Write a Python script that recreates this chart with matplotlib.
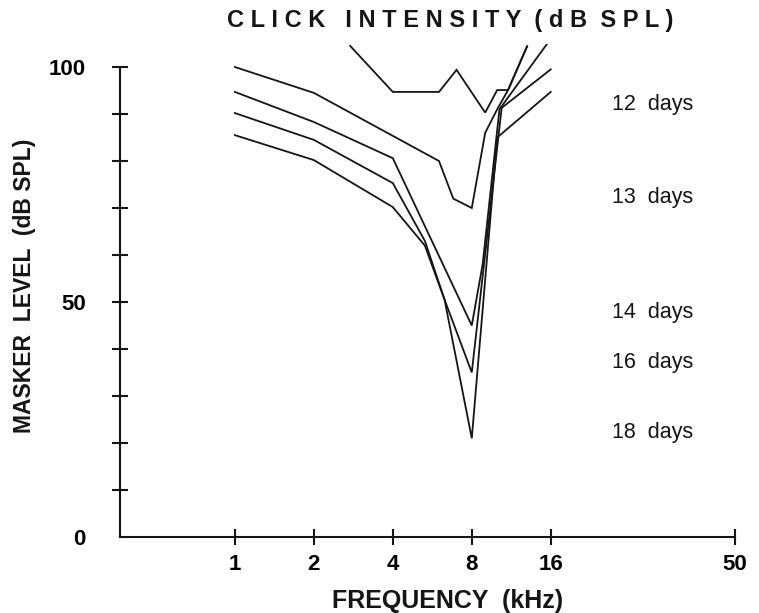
import numpy as np
import matplotlib
matplotlib.use("Agg")
import matplotlib.pyplot as plt
from matplotlib.ticker import FixedLocator

plt.rcParams["font.family"] = ["Liberation Sans", "DejaVu Sans"]

# masking curves, frequency in kHz, masker level in dB SPL
f_12 = [2.75, 4, 6, 7, 9, 10, 11, 13]
db_12 = [104.5, 94.7, 94.7, 99.4, 90.3, 95.1, 95.1, 104.4]

f_13 = [1, 2, 6, 6.8, 8, 9, 10, 11, 13]
db_13 = [100, 94.5, 80, 72, 70, 86, 91, 95.1, 104.4]

f_14 = [1, 2, 4, 8, 8.8, 10.2, 16]
db_14 = [94.7, 88.3, 80.6, 45, 58, 91, 106]

f_16 = [1, 2, 4, 5.3, 6.3, 8, 10.4, 16]
db_16 = [90.2, 84.5, 75.3, 63, 50.5, 35, 91.3, 99.5]

f_18 = [1, 2, 4, 5.3, 6.3, 8, 10, 16]
db_18 = [85.5, 80.2, 70.2, 62, 50.5, 21, 85, 94.7]

curves = [(f_12, db_12), (f_13, db_13), (f_14, db_14), (f_16, db_16), (f_18, db_18)]

age_labels = ["12  days", "13  days", "14  days", "16  days", "18  days"]
age_label_y = [92.0, 72.3, 47.7, 37.2, 22.3]

freq_ticks = [1, 2, 4, 8, 16]
freq_labels = ["1", "2", "4", "8", "16", "50"]

x_lo, x_hi = 2 ** -1.456, 2 ** 6.33
ink = "#151515"

fig = plt.figure(figsize=(7.59, 6.13), dpi=100)
ax = fig.add_axes([0.158, 0.124, 0.810, 0.805])

for f, db in curves:
    ax.plot(f, db, color=ink, lw=1.3, solid_joinstyle="miter")

ax.set_xscale("log", base=2)
ax.set_xlim(x_lo, x_hi)
ax.set_ylim(0, 105)

ax.spines["top"].set_visible(False)
ax.spines["right"].set_visible(False)
ax.spines["left"].set_bounds(0, 100)
for s in ("left", "bottom"):
    ax.spines[s].set_linewidth(1.5)
    ax.spines[s].set_color(ink)

# last tick marks the end of the axis (50 kHz)
ax.xaxis.set_major_locator(FixedLocator(freq_ticks + [x_hi]))
ax.set_xticklabels(freq_labels)
ax.xaxis.set_minor_locator(FixedLocator([]))
ax.set_yticks([0, 50, 100])
ax.set_yticklabels(["0", "50", "100"])
ax.yaxis.set_minor_locator(FixedLocator([10, 20, 30, 40, 60, 70, 80, 90]))

ax.tick_params(axis="x", which="major", direction="inout", length=11, width=1.5,
               pad=7, labelsize=16, color=ink)
ax.tick_params(axis="y", which="both", direction="inout", length=11, width=1.5,
               pad=19, labelsize=16, color=ink)
ax.yaxis.get_major_ticks()[0].tick1line.set_visible(False)
for lab in ax.get_xticklabels() + ax.get_yticklabels():
    lab.set_fontweight("bold")

for txt, y in zip(age_labels, age_label_y):
    ax.text(2 ** 4.77, y, txt, fontsize=15.5, va="center", ha="left", color=ink)

fig.text(0.593, 0.966, "C L I C K   I N T E N S I T Y  ( d B  S P L )", fontsize=17,
         fontweight="bold", ha="center", va="center", color=ink)
fig.text(0.032, 0.534, "MASKER  LEVEL  (dB SPL)", fontsize=16.5,
         fontweight="bold", ha="center", va="center", rotation=90, color=ink)
fig.text(0.590, 0.0, "FREQUENCY  (kHz)", fontsize=18,
         fontweight="bold", ha="center", va="bottom", color=ink)

fig.savefig("out.png", dpi=100, facecolor="white")
